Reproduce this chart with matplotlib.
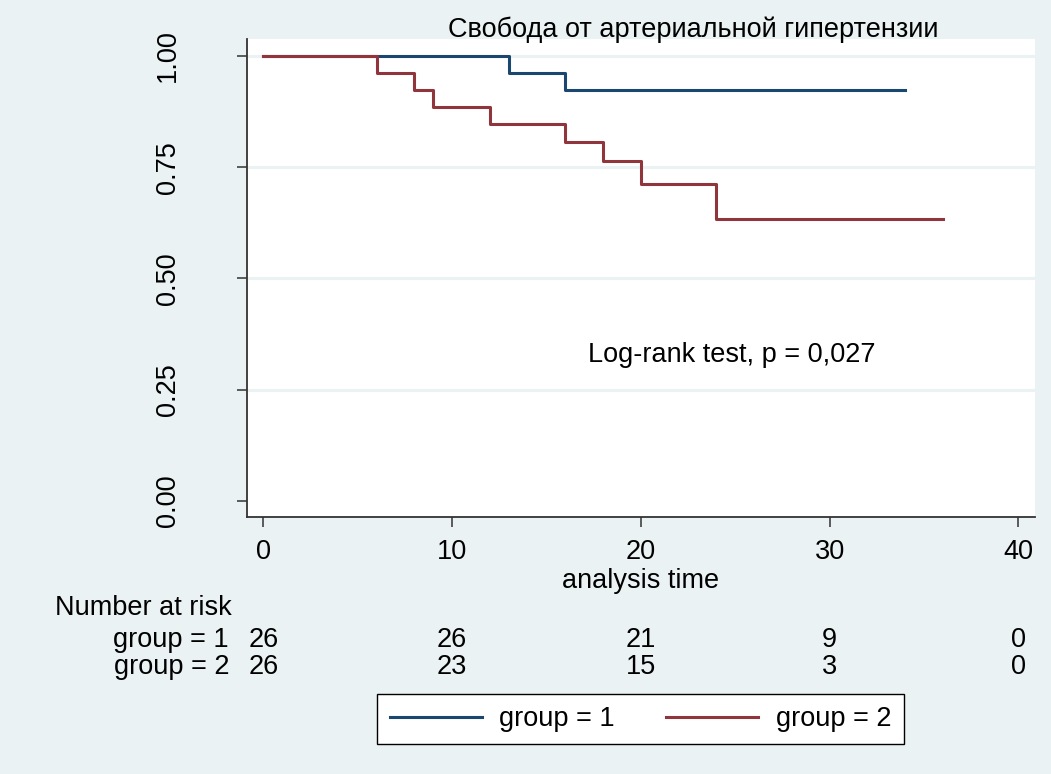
import numpy as np
import matplotlib.pyplot as plt

plt.rcParams['font.family'] = ['Liberation Sans', 'DejaVu Sans']

# Kaplan-Meier steps read per group: event times and survival after each step
time_g1 = [0, 13, 16, 34]
surv_g1 = [1.000, 0.962, 0.923, 0.923]

time_g2 = [0, 6, 8, 9, 12, 16, 18, 20, 24, 36]
surv_g2 = [1.000, 0.962, 0.923, 0.885, 0.846, 0.807, 0.763, 0.713, 0.634, 0.634]

risk_times = [0, 10, 20, 30, 40]
risk_g1 = [26, 26, 21, 9, 0]
risk_g2 = [26, 23, 15, 3, 0]

title = "Свобода от артериальной гипертензии"
note = "Log-rank test, p = 0,027"

bg = "#eaf2f3"
navy = "#1a476f"
maroon = "#90353b"
fs = 19.5

fig = plt.figure(figsize=(10.51, 7.74), dpi=100, facecolor=bg)
W, H = 1051, 774
ax = fig.add_axes([246.5 / W, 1 - 517 / H, (1035 - 246.5) / W, (517 - 39) / H])
ax.set_facecolor("white")

# map pixel extents to data limits
x0px, x40px = 263.3, 1018.3
pxu = (x40px - x0px) / 40
ax.set_xlim(-(x0px - 246.5) / pxu, 40 + (1035 - x40px) / pxu)
y1px, y0px = 56, 500.7
pyu = y0px - y1px
ax.set_ylim(-(517 - y0px) / pyu, 1 + (y1px - 39) / pyu)

for yv in [0.25, 0.5, 0.75, 1.0]:
    ax.axhline(yv, color=bg, lw=2.2, zorder=1)

l1, = ax.step(time_g1, surv_g1, where='post', color=navy, lw=2.2, zorder=3)
l2, = ax.step(time_g2, surv_g2, where='post', color=maroon, lw=2.2, zorder=3)

ax.set_xticks(risk_times)
ax.set_yticks([0, 0.25, 0.5, 0.75, 1.0])
ax.set_yticklabels(["0.00", "0.25", "0.50", "0.75", "1.00"], rotation=90, va='center')
ax.tick_params(axis='both', labelsize=fs, length=7, width=1.1, color="#333333")
ax.tick_params(axis='x', pad=9)
ax.tick_params(axis='y', pad=40)
for side in ['top', 'right']:
    ax.spines[side].set_visible(False)
for side in ['left', 'bottom']:
    ax.spines[side].set_color("#333333")
    ax.spines[side].set_linewidth(1.3)

ax.set_xlabel("analysis time", fontsize=fs, labelpad=2)

ax.text(24.8, 0.328, note, fontsize=fs, ha='center', va='center')

fig.text(693 / W, 1 - 30 / H, title, fontsize=fs, ha='center', va='center')

# number-at-risk table under the axis
fig.text(55 / W, 1 - 608 / H, "Number at risk", fontsize=fs, ha='left', va='center')
for lab, vals, ypx in [("group = 1", risk_g1, 640), ("group = 2", risk_g2, 667)]:
    fig.text(229 / W, 1 - ypx / H, lab, fontsize=fs, ha='right', va='center')
    for t, n in zip(risk_times, vals):
        xf = (x0px + t * pxu) / W
        fig.text(xf, 1 - ypx / H, str(n), fontsize=fs, ha='center', va='center')

leg = fig.legend([l1, l2], ["group = 1", "group = 2"], ncol=2, loc='center',
                 bbox_to_anchor=(640.5 / W, 1 - 719 / H), fontsize=fs,
                 frameon=True, fancybox=False, edgecolor='black',
                 facecolor='white', framealpha=1,
                 handlelength=3.4, handletextpad=0.65, columnspacing=1.9,
                 borderpad=0.45, borderaxespad=0)
leg.get_frame().set_linewidth(1.0)

fig.savefig("out.png", dpi=100, facecolor=bg)
